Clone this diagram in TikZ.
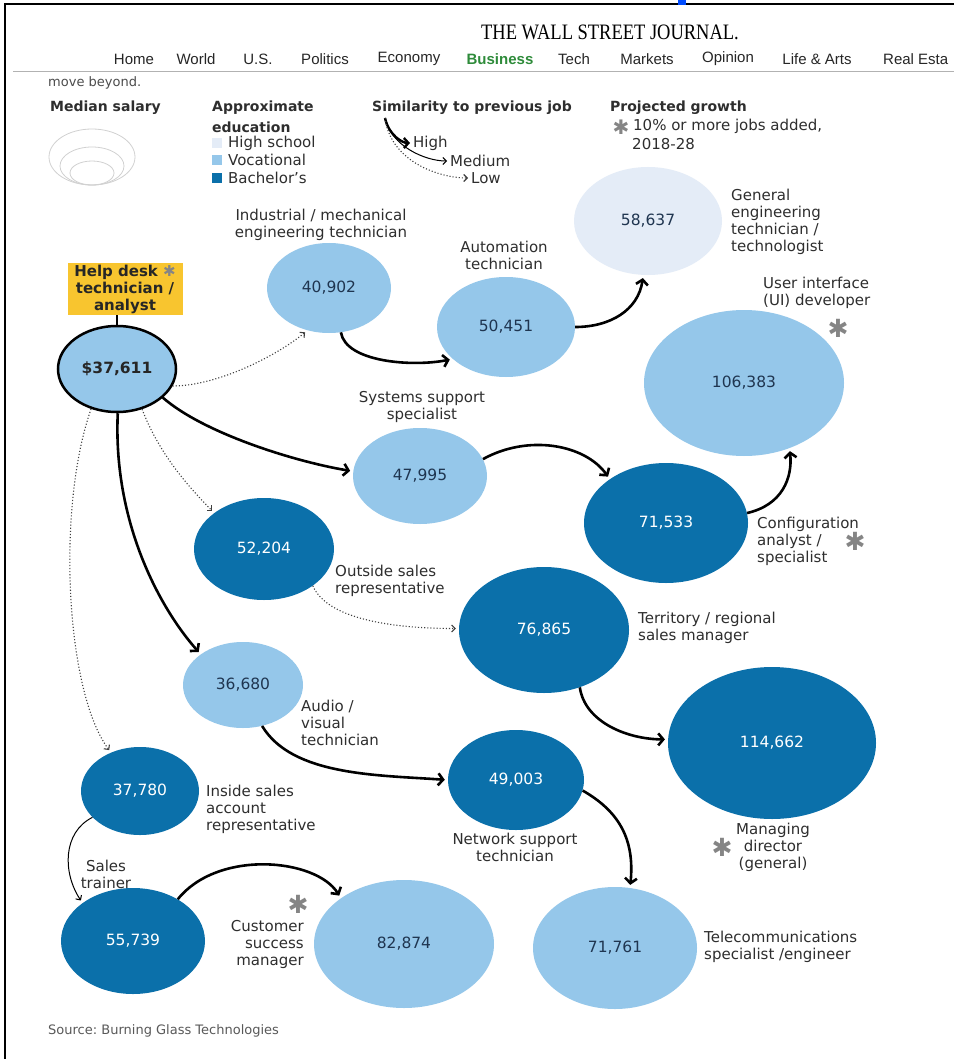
\documentclass[tikz,border=0pt]{standalone}
\usepackage{fontspec}
\setmainfont{DejaVu Sans}
\newfontfamily\navfont{Liberation Sans}
\newfontfamily\titlefont{Liberation Serif}
\usetikzlibrary{shapes.geometric,arrows.meta}
\frenchspacing
\definecolor{voc}{HTML}{95C7EA}
\definecolor{bach}{HTML}{0B70AA}
\definecolor{hs}{HTML}{E4ECF7}
\definecolor{ylw}{HTML}{F8C52F}
\definecolor{numdark}{HTML}{1F3550}
\definecolor{lblc}{HTML}{2E2E2E}
\definecolor{astc}{HTML}{858585}
\definecolor{wsjgreen}{HTML}{2E8B3A}
\begin{document}
\begin{tikzpicture}[x=1pt,y=-1pt,
  job/.style={ellipse,inner sep=0pt,font=\fontsize{15.5}{17}\selectfont},
  vocjob/.style={job,fill=voc,text=numdark},
  bachjob/.style={job,fill=bach,text=white},
  hsjob/.style={job,fill=hs,text=numdark},
  lbl/.style={inner sep=0pt,text=lblc,font=\fontsize{15}{17}\selectfont},
  legtxt/.style={inner sep=0pt,anchor=west,text=lblc,font=\fontsize{15}{17}\selectfont},
  leghead/.style={inner sep=0pt,anchor=west,text=lblc,font=\bfseries\fontsize{14}{16}\selectfont},
  nav/.style={inner sep=0pt,text=black!85,font=\navfont\fontsize{15}{17}\selectfont},
  high/.style={line width=2.6pt,shorten >=3pt,-{Straight Barb[length=5pt,width=12pt]}},
  med/.style={line width=1pt,shorten >=3pt,-{Straight Barb[length=3.5pt,width=7pt]}},
  low/.style={line width=1.1pt,dotted,draw=black!75,shorten >=3pt,-{Straight Barb[length=3.5pt,width=7pt]}},
  ast/.style={inner sep=0pt,text=astc,font=\fontsize{25}{25}\selectfont},
  legsq/.style={inner sep=0pt,minimum size=10pt},
  salc/.style={draw=black!18,line width=0.8pt}
]
\useasboundingbox (0,0) rectangle (954,1059);
\fill[white] (0,0) rectangle (954,1059);
\draw[line width=2pt] (5,1059) -- (5,4) -- (954,4);
\fill[blue!70!cyan] (678,0) rectangle (686,5);

% header
\node[inner sep=0pt,font=\titlefont\fontsize{22}{24}\selectfont] (title) at (610,32) {\scalebox{0.84}[1]{THE WALL STREET JOURNAL.}};
\node[nav] (n1) at (134,59) {Home};
\node[nav] (n2) at (196,59) {World};
\node[nav] (n3) at (258,59) {U.S.};
\node[nav] (n4) at (325,59) {Politics};
\node[nav] (n5) at (409,59) {Economy};
\node[nav,text=wsjgreen,font=\navfont\bfseries\fontsize{15}{17}\selectfont] (n6) at (500,59) {Business};
\node[nav] (n7) at (574,59) {Tech};
\node[nav] (n8) at (647,59) {Markets};
\node[nav] (n9) at (728,59) {Opinion};
\node[nav] (n10) at (817,59) {Life \& Arts};
\node[nav,anchor=west] (n11) at (883,59) {Real Esta};
\draw[black!30,line width=1pt] (13,72) -- (954,72);
\node[legtxt,text=black!70,font=\fontsize{13}{15}\selectfont] (mb) at (48,83) {move beyond.};

% legend
\node[leghead] (lmed) at (50,108) {Median salary};
\draw[salc] (92,157) ellipse [x radius=43, y radius=28];
\draw[salc] (92,166) ellipse [x radius=32, y radius=19];
\draw[salc] (92,173) ellipse [x radius=22, y radius=12];

\node[leghead] (ledu1) at (212,108) {Approximate};
\node[leghead] (ledu2) at (212,127) {education};
\node[legsq,fill=hs] (sq1) at (217,143) {};
\node[legsq,fill=voc] (sq2) at (217,160) {};
\node[legsq,fill=bach] (sq3) at (217,178) {};
\node[legtxt] (t1) at (228,143) {High school};
\node[legtxt] (t2) at (228,160) {Vocational};
\node[legtxt] (t3) at (228,178) {Bachelor's};

\node[leghead] (lsim) at (372,108) {Similarity to previous job};
\coordinate (s0) at (385,118);
\node[legtxt] (lhigh) at (413,143) {High};
\node[legtxt] (lmedium) at (450,161) {Medium};
\node[legtxt] (llow) at (471,178) {Low};
\draw[line width=2.4pt,shorten >=3pt,-{Straight Barb[length=4.5pt,width=10pt]}] (s0) .. controls +(4,18) and +(-10,0) .. (lhigh.west);
\draw[med] (s0) .. controls +(6,28) and +(-25,0) .. (lmedium.west);
\draw[low] (s0) .. controls +(6,45) and +(-30,0) .. (llow.west);

\node[leghead] (lproj) at (610,108) {Projected growth};
\node[ast,font=\fontsize{20}{20}\selectfont] (a0) at (621,127) {✱};
\node[legtxt] (lg1) at (633,126) {10\% or more jobs added,};
\node[legtxt] (lg2) at (632,144) {2018-28};

% main node
\node[inner sep=0pt,fill=ylw,minimum width=115pt,minimum height=52pt,align=center,
      font=\bfseries\fontsize{15}{17}\selectfont,text=black!85] (box) at (125,289)
      {Help desk \textcolor{astc}{✱}\\technician /\\analyst};
\node[ellipse,draw=black,line width=2.5pt,fill=voc,minimum width=118pt,minimum height=86pt,inner sep=0pt,
      font=\bfseries\fontsize{15.5}{17}\selectfont,text=black!85] (hd) at (117,369) {\$37,611};
\draw[line width=2.5pt] (box.south -| hd.north) -- (hd.north);

% job nodes
\node[vocjob,minimum width=124pt,minimum height=90pt] (ind) at (329,288) {40,902};
\node[vocjob,minimum width=138pt,minimum height=100pt] (aut) at (506,327) {50,451};
\node[hsjob,minimum width=148pt,minimum height=108pt] (gen) at (648,221) {58,637};
\node[vocjob,minimum width=200pt,minimum height=146pt] (ui) at (744,383) {106,383};
\node[vocjob,minimum width=134pt,minimum height=96pt] (sys) at (420,476) {47,995};
\node[bachjob,minimum width=164pt,minimum height=120pt] (cfg) at (666,523) {71,533};
\node[bachjob,minimum width=140pt,minimum height=102pt] (osr) at (264,549) {52,204};
\node[bachjob,minimum width=170pt,minimum height=126pt] (ter) at (544,630) {76,865};
\node[bachjob,minimum width=208pt,minimum height=152pt] (mgd) at (772,743) {114,662};
\node[vocjob,minimum width=120pt,minimum height=86pt] (av) at (243,685) {36,680};
\node[bachjob,minimum width=136pt,minimum height=100pt] (net) at (516,780) {49,003};
\node[bachjob,minimum width=118pt,minimum height=88pt] (isr) at (140,791) {37,780};
\node[bachjob,minimum width=144pt,minimum height=106pt] (st) at (133,941) {55,739};
\node[vocjob,minimum width=180pt,minimum height=128pt] (csm) at (404,944) {82,874};
\node[vocjob,minimum width=164pt,minimum height=122pt] (tel) at (615,948) {71,761};

% labels
\node[lbl,align=center] (Lind) at (321,225) {Industrial / mechanical\\engineering technician};
\node[lbl,align=center] (Laut) at (504,255) {Automation\\technician};
\node[lbl,align=left,anchor=west] (Lgen) at (731,222) {General\\engineering\\technician /\\technologist};
\node[lbl,align=left,anchor=west] (Lui) at (763,293) {User interface\\(UI) developer};
\node[ast] (aui) at (838,328) {✱};
\node[lbl,align=center] (Lsys) at (422,407) {Systems support\\specialist};
\node[lbl,align=left,anchor=west] (Lcfg) at (757,541) {Configuration\\analyst /\\specialist};
\node[ast] (acfg) at (855,541) {✱};
\node[lbl,align=left,anchor=west] (Losr) at (335,581) {Outside sales\\representative};
\node[lbl,align=left,anchor=west] (Lter) at (638,628) {Territory / regional\\sales manager};
\node[lbl,align=left,anchor=west] (Lav) at (301,723) {Audio /\\visual\\technician};
\node[lbl,align=left,anchor=west] (Lisr) at (206,809) {Inside sales\\account\\representative};
\node[lbl,align=center] (Lnet) at (515,847) {Network support\\technician};
\node[lbl,align=center] (Lmgd) at (773,847) {Managing\\director\\(general)};
\node[ast] (amgd) at (722,847) {✱};
\node[lbl,align=center] (Lst) at (106,874) {Sales\\trainer};
\node[lbl,align=right,anchor=east] (Lcsm) at (304,944) {Customer\\success\\manager};
\node[ast,anchor=south] (acsm) at (298,914) {✱};
\node[lbl,align=left,anchor=west] (Ltel) at (704,947) {Telecommunications\\specialist /engineer};
\node[legtxt,text=black!65,font=\fontsize{13}{15}\selectfont] (src) at (48,1031) {Source: Burning Glass Technologies};

% connectors
\draw[low]  (hd.-17) .. controls +(45,0) and +(-30,25) .. (ind.-117);
\draw[high] (ind.-75) .. controls +(5,30) and +(-40,8) .. (aut.-149);
\draw[high] (aut.0) .. controls +(35,0) and +(-5,35) .. (gen.-95);
\draw[high] (hd.-32) .. controls +(40,35) and +(-60,-10) .. (sys.176);
\draw[high] (sys.15) .. controls +(45,-25) and +(-25,-35) .. (cfg.142);
\draw[high] (cfg.7) .. controls +(35,-8) and +(3,30) .. (ui.-55);
\draw[low]  (hd.-58) .. controls +(15,40) and +(-30,-30) .. (osr.144);
\draw[high] (hd.-89) .. controls +(-5,110) and +(-40,-45) .. (av.144);
\draw[low]  (hd.-123) .. controls +(-35,100) and +(-45,-60) .. (isr.127);
\draw[low]  (osr.-37) .. controls +(15,35) and +(-60,0) .. (ter.179);
\draw[high] (ter.-58) .. controls +(5,35) and +(-40,0) .. (mgd.178);
\draw[high] (av.-65) .. controls +(30,50) and +(-70,-5) .. (net.180);
\draw[high] (net.-9) .. controls +(35,20) and +(5,-50) .. (tel.76);
\draw[med]  (isr.-151) .. controls +(-30,15) and +(-20,-30) .. (st.143);
\draw[high] (st.43) .. controls +(40,-50) and +(-25,-40) .. (csm.144);
\end{tikzpicture}
\end{document}
